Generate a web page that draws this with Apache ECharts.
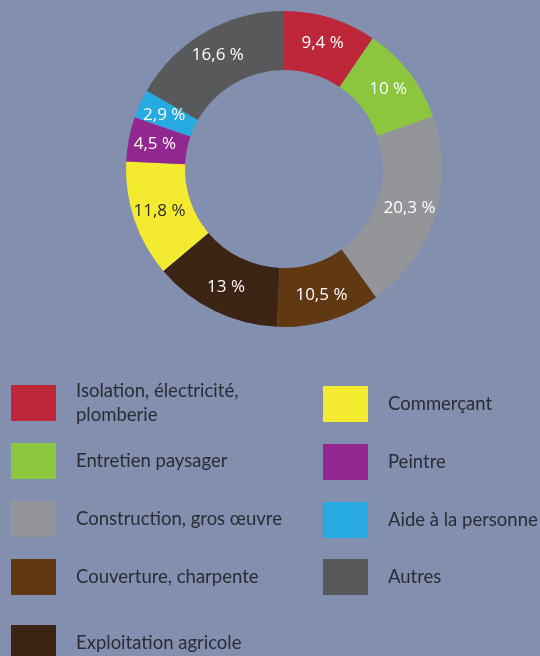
<!DOCTYPE html>
<html>
<head>
<meta charset="utf-8">
<script src="https://cdn.jsdelivr.net/npm/echarts@6/dist/echarts.min.js"></script>
<style>
  html, body { margin: 0; padding: 0; background: #838fae; }
  #chart { width: 540px; height: 656px; }
</style>
</head>
<body>
<div id="chart"></div>
<script>
// secteurs d'activité, dans l'ordre du donut (sens horaire depuis midi)
const categories = [
  "Isolation, électricité, plomberie",
  "Entretien paysager",
  "Construction, gros œuvre",
  "Couverture, charpente",
  "Exploitation agricole",
  "Commerçant",
  "Peintre",
  "Aide à la personne",
  "Autres"
];
const values = [9.4, 10, 20.3, 10.5, 13, 11.8, 4.5, 2.9, 16.6];
const colors = [
  "#be2639", "#8cc63f", "#939598", "#603913", "#3c2415",
  "#f4eb30", "#92278f", "#27aae1", "#58595b"
];

const chart = echarts.init(document.getElementById("chart"));

// emplacement de chaque entrée de légende (deux colonnes)
const legendSlots = [
  [11, 379], [11, 443], [11, 501], [11, 559], [11, 625],
  [323, 386], [323, 444], [323, 502], [323, 559]
];

const legends = categories.map((name, i) => ({
  orient: "vertical",
  left: legendSlots[i][0],
  top: legendSlots[i][1],
  padding: 0,
  icon: "rect",
  itemWidth: 45,
  itemHeight: 36,
  selectedMode: false,
  data: [name],
  textStyle: {
    color: "#2b2b35",
    fontSize: 18.5,
    fontFamily: "Lato",
    lineHeight: 24,
    padding: [0, 0, 0, 15]
  },
  formatter: (n) => n === categories[0] ? "Isolation, électricité,\nplomberie" : n
}));

const options = {
  backgroundColor: "#838fae",
  animation: false,
  color: colors,
  legend: legends,
  series: [
    {
      name: "Secteurs",
      type: "pie",
      center: [284, 169],
      radius: [99, 158],
      startAngle: 90,
      clockwise: true,
      avoidLabelOverlap: false,
      label: {
        show: true,
        position: "inside",
        color: "#ffffff",
        fontSize: 17,
        fontFamily: "Open Sans",
        formatter: (p) => String(p.value).replace(".", ",") + " %"
      },
      labelLine: { show: false },
      emphasis: { disabled: true },
      data: values.map((value, index) => ({
        value,
        name: categories[index],
        label: index === 5 ? { color: "#2b2b2b" } : undefined
      }))
    }
  ]
};

chart.setOption(options);
</script>
</body>
</html>
